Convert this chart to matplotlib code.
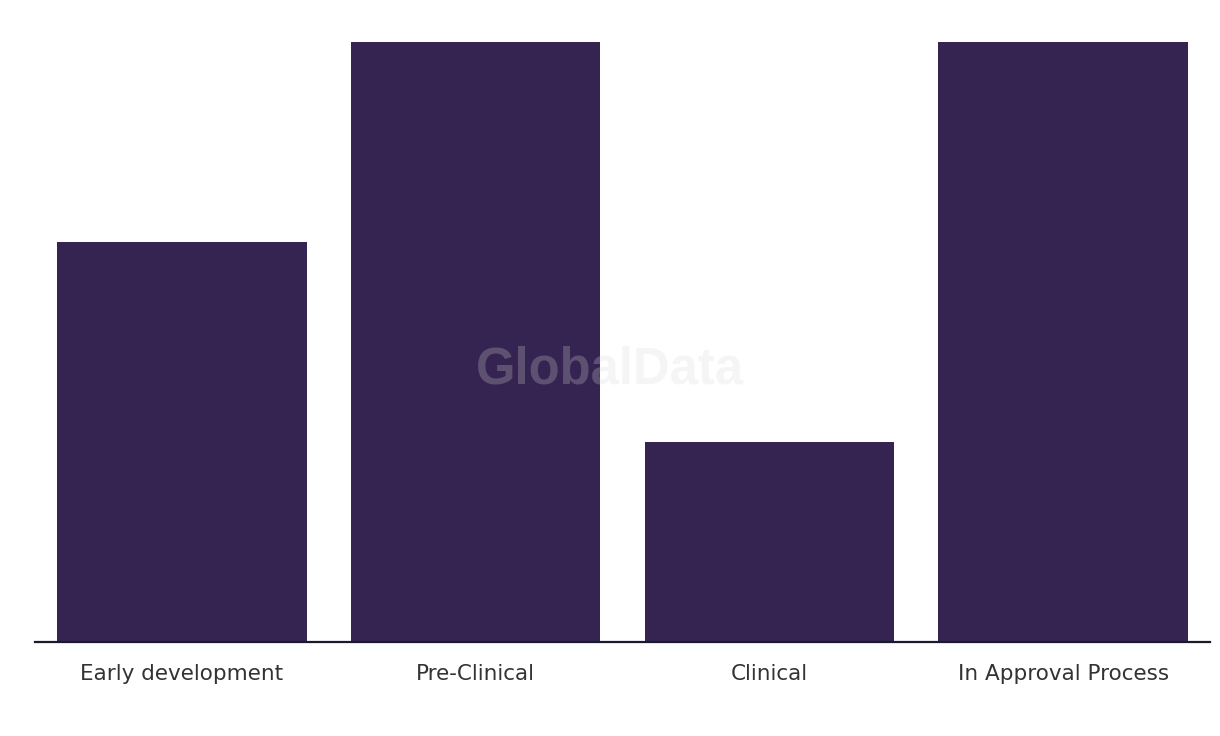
import matplotlib.pyplot as plt
import numpy as np

stages = ["Early development", "Pre-Clinical", "Clinical", "In Approval Process"]
counts = [2, 3, 1, 3]

bar_color = "#352451"

fig = plt.figure(figsize=(12.2, 7.36), dpi=100)
ax = fig.add_axes([35 / 1220, 94 / 736, 1175 / 1220, 600 / 736])

x = np.arange(len(stages))
ax.bar(x, counts, width=0.85, color=bar_color, zorder=2)

ax.set_xlim(-0.5, len(stages) - 0.5)
ax.set_ylim(0, 3)
ax.set_xticks(x)
ax.set_xticklabels(stages, fontsize=15.5, color="#333333", family="DejaVu Sans")
ax.tick_params(axis="x", length=0, pad=16)
ax.set_yticks([])

for side in ["top", "right", "left"]:
    ax.spines[side].set_visible(False)
ax.spines["bottom"].set_color("#1a1a2e")
ax.spines["bottom"].set_linewidth(1.6)
ax.spines["bottom"].set_zorder(3)

# watermark
fig.text(610 / 1220, 1 - 370 / 736, "GlobalData", fontsize=36.5, fontweight="bold",
         family="Liberation Sans", color="#d8d8d8", alpha=0.25,
         ha="center", va="center", zorder=5)

fig.savefig("out.png", dpi=100)
